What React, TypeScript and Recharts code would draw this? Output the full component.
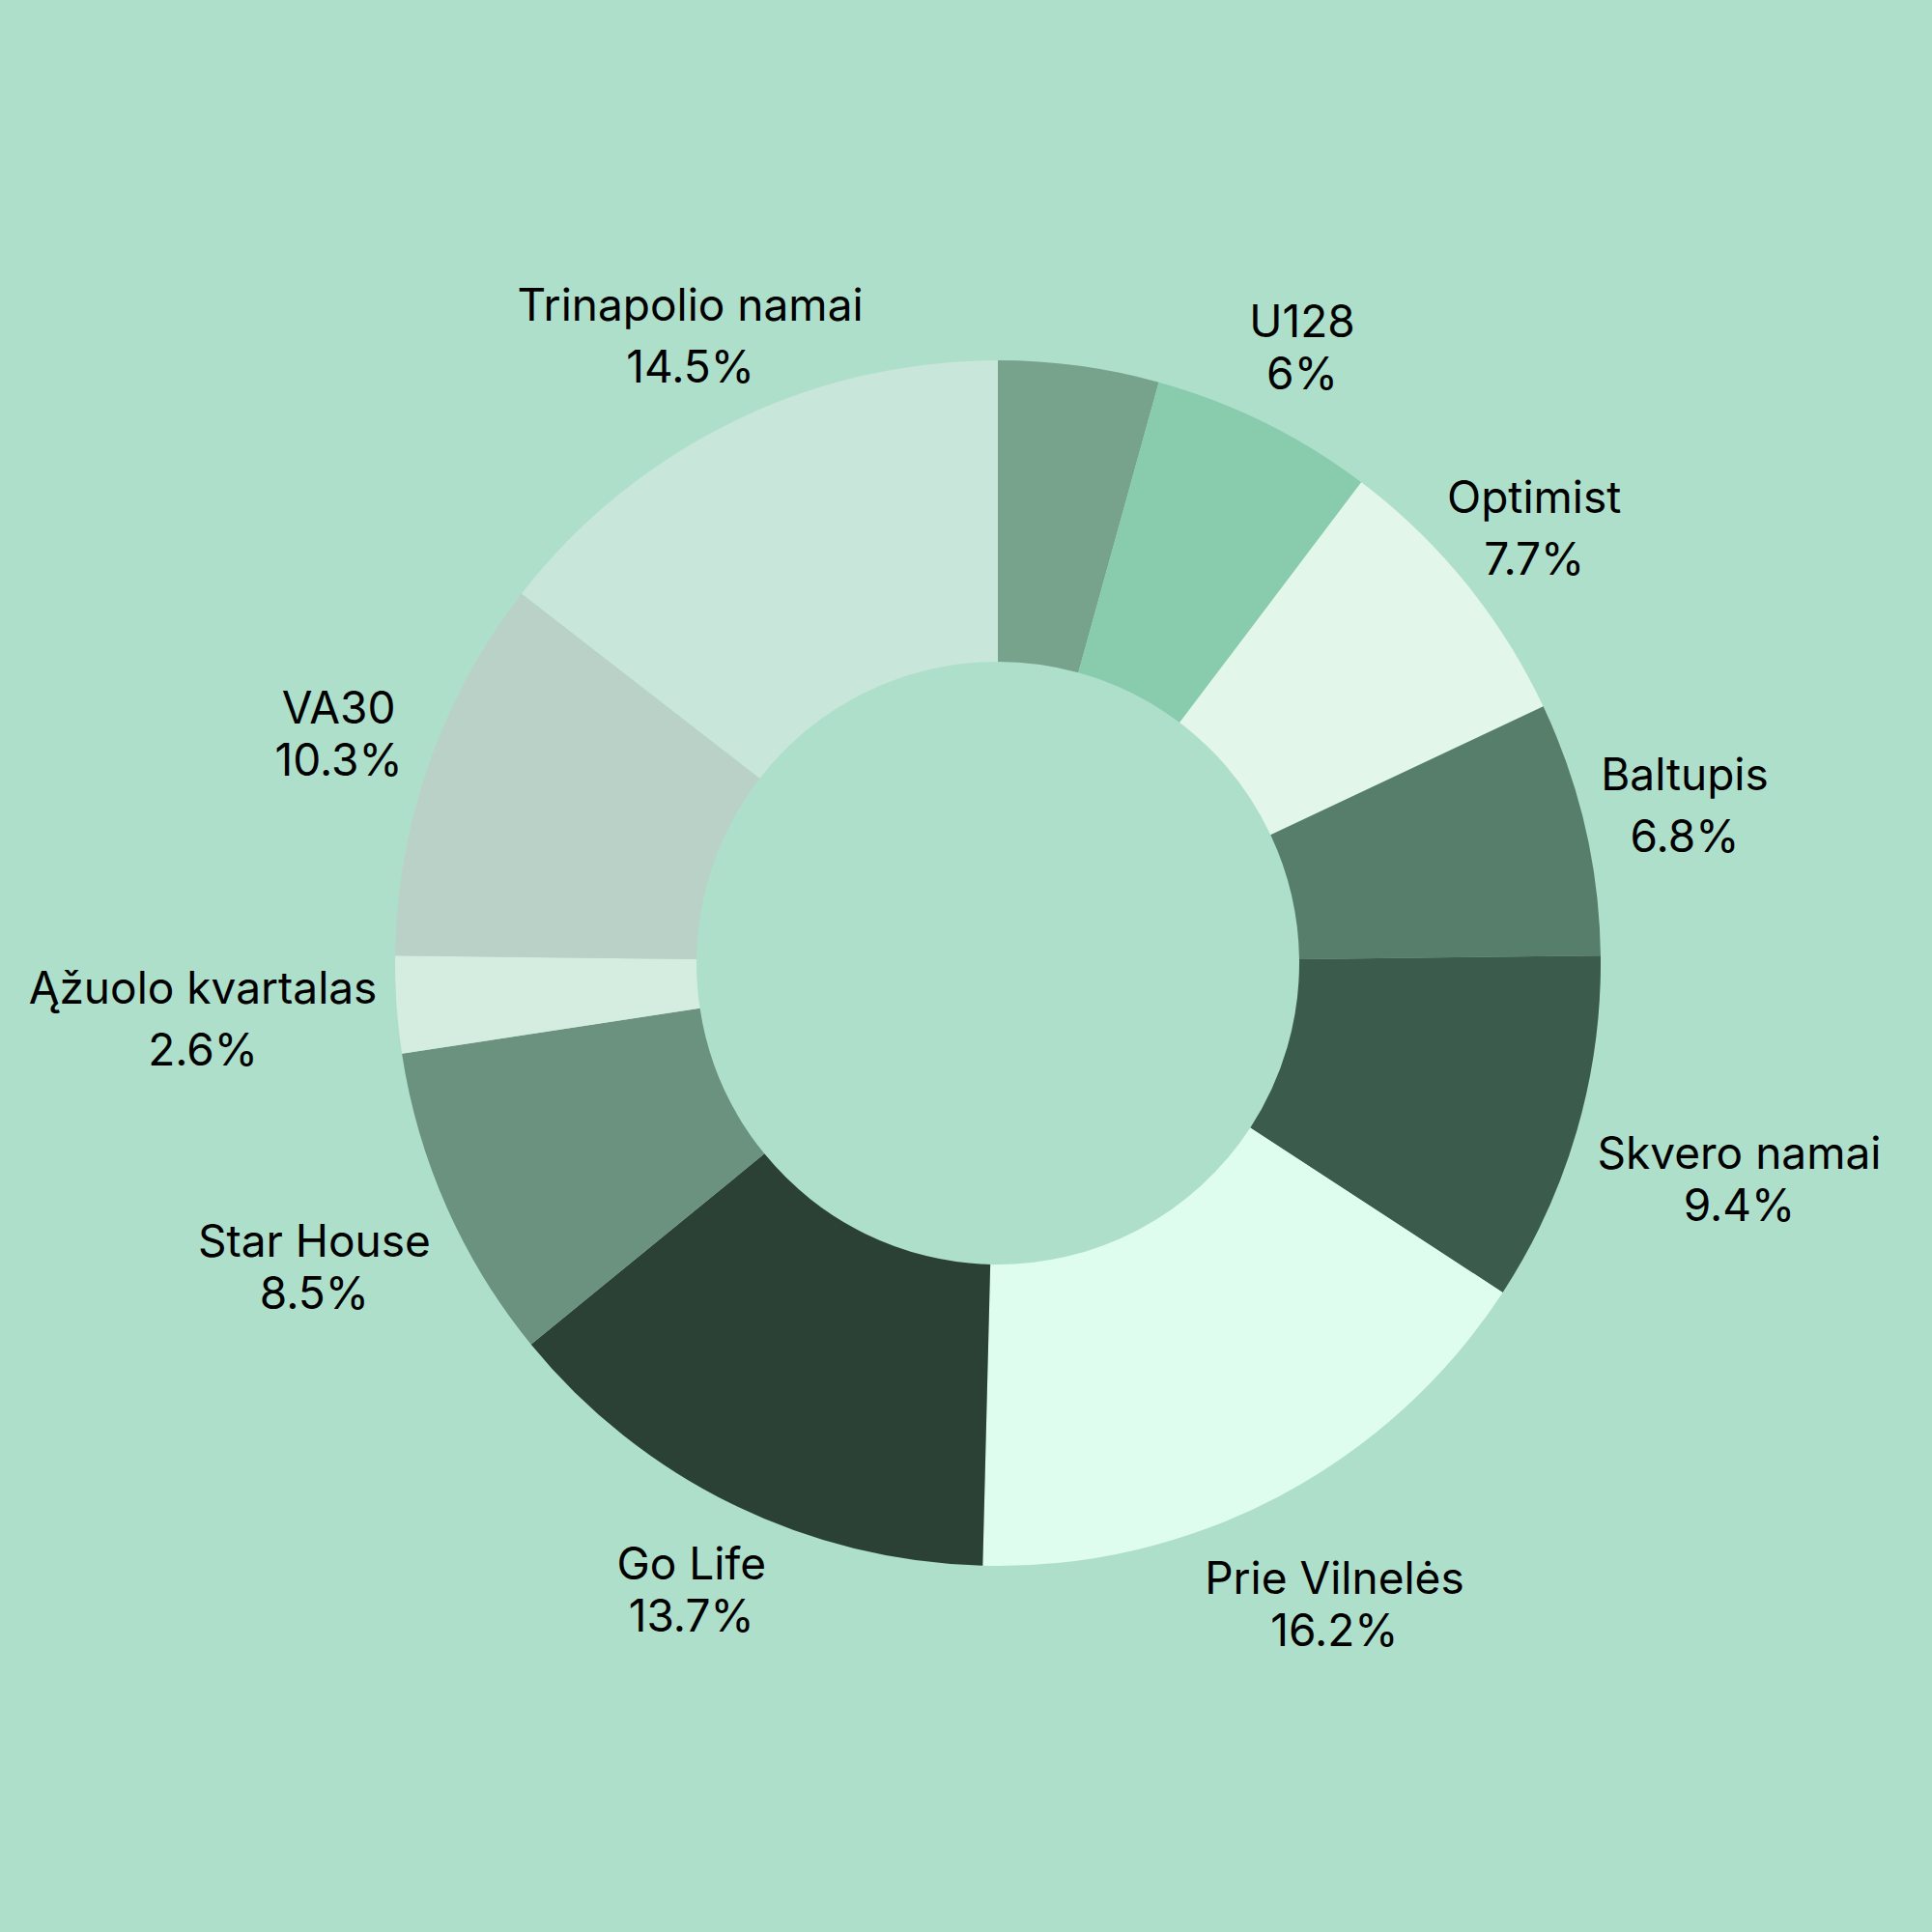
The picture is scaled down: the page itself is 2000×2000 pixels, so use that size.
import React from 'react';
import { PieChart, Pie, Cell } from 'recharts';

// ---- data ----
const names = [
  '',
  'U128',
  'Optimist',
  'Baltupis',
  'Skvero namai',
  'Prie Vilnelės',
  'Go Life',
  'Star House',
  'Ąžuolo kvartalas',
  'VA30',
  'Trinapolio namai',
];
const shares = [4.3, 6, 7.7, 6.8, 9.4, 16.2, 13.7, 8.5, 2.6, 10.3, 14.5];

// ---- styles ----
const colors = [
  '#77a38d',
  '#89cbad',
  '#e2f6ea',
  '#567e6b',
  '#3b5b4d',
  '#dffdee',
  '#2c4135',
  '#6b917f',
  '#d5ece0',
  '#bad1c7',
  '#c8e6d9',
];
const BG = '#aedfcb';
const FONT_FAMILY = 'Inter';
const FONT_SIZE = 46;
const CAP_HALF = 17;
const LABEL_RADIUS = 645;
const wideGapLabels = new Set(['Trinapolio namai', 'Optimist', 'Baltupis', 'Ąžuolo kvartalas']);

const data = names.map((name, i) => ({ name, value: shares[i] }));

let ctx: CanvasRenderingContext2D | null = null;
function measure(t: string): number {
  if (!ctx) {
    const c = document.createElement('canvas');
    ctx = c.getContext('2d');
  }
  if (!ctx) return t.length * FONT_SIZE * 0.5;
  ctx.font = `${FONT_SIZE}px ${FONT_FAMILY}`;
  return ctx.measureText(t).width;
}

const renderLabel = (props: any) => {
  const { cx, cy, midAngle } = props;
  const name: string = props.payload?.name ?? props.name;
  const value: number = props.payload?.value ?? props.value;
  if (!name) return null;
  const rad = Math.PI / 180;
  const dx = Math.cos(-midAngle * rad);
  const dy = Math.sin(-midAngle * rad);
  const l1 = name;
  const l2 = `${value}%`;
  const w = Math.max(measure(l1), measure(l2));
  const wide = wideGapLabels.has(name);
  const gap = wide ? 64 : 54;
  const hh = wide ? 0 : 47;
  const D = LABEL_RADIUS + (w / 2) * Math.abs(dx) + hh * Math.abs(dy);
  const x = cx + dx * D;
  const yc = cy + dy * D;
  const b1 = yc - gap / 2 + CAP_HALF;
  return (
    <text
      key={`lbl-${name}`}
      x={x}
      y={b1}
      textAnchor="middle"
      fontFamily={FONT_FAMILY}
      fontSize={FONT_SIZE}
      fill="#000"
    >
      <tspan x={x} y={b1}>{l1}</tspan>
      <tspan x={x} y={b1 + gap}>{l2}</tspan>
    </text>
  );
};

export default function App() {
  return (
    <div style={{ position: 'absolute', left: 0, top: 0, width: 2000, height: 2000, background: BG }}>
      <style>{`body{margin:0;}`}</style>
      <PieChart width={2000} height={2000} margin={{ top: 0, right: 0, bottom: 0, left: 0 }}>
        <Pie
          data={data}
          dataKey="value"
          nameKey="name"
          cx={1033}
          cy={997}
          outerRadius={624}
          innerRadius={312}
          startAngle={90}
          endAngle={-270}
          stroke="none"
          labelLine={false}
          label={renderLabel}
          isAnimationActive={false}
        >
          {data.map((d, i) => (
            <Cell key={`c-${i}`} fill={colors[i]} stroke="none" />
          ))}
        </Pie>
      </PieChart>
    </div>
  );
}
